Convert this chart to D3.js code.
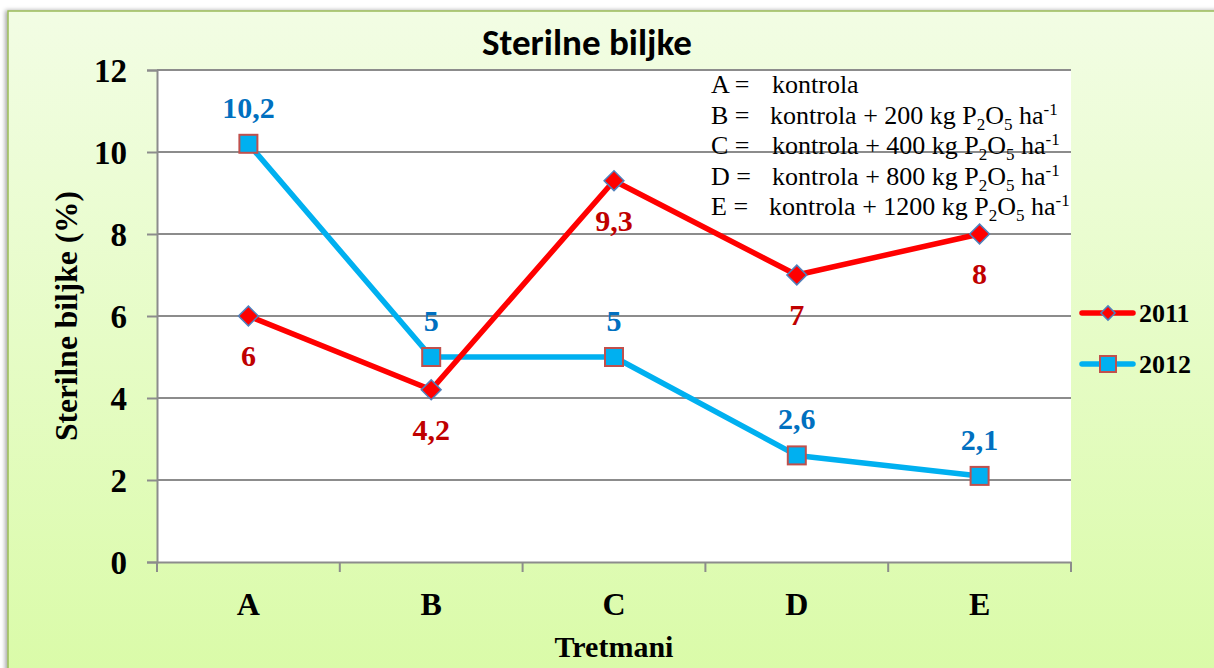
<!DOCTYPE html>
<html><head><meta charset="utf-8">
<script src="https://cdn.jsdelivr.net/npm/d3@7"></script>
<style>body{margin:0;background:#fff;}svg{display:block;}</style>
</head><body>
<script>
const categories = ["A","B","C","D","E"];
const series2011 = [6, 4.2, 9.3, 7, 8];
const series2012 = [10.2, 5, 5, 2.6, 2.1];
const labels2011 = ["6","4,2","9,3","7","8"];
const labels2012 = ["10,2","5","5","2,6","2,1"];
const yTicks = [0,2,4,6,8,10,12];
const seriesNames = ["2011","2012"];
const noteKeys = ["A =","B =","C =","D =","E ="];
const noteTexts = ["kontrola","kontrola + 200 kg P","kontrola + 400 kg P","kontrola + 800 kg P","kontrola + 1200 kg P"];
const noteUnit = [false,true,true,true,true];

const W=1214,H=668;
const SERIF="Liberation Serif, Times New Roman, serif";
const svg=d3.select("body").append("svg").attr("width",W).attr("height",H);
const defs=svg.append("defs");
const g1=defs.append("linearGradient").attr("id","bg").attr("x1",0).attr("y1",0).attr("x2",0).attr("y2",1);
g1.append("stop").attr("offset","0%").attr("stop-color","#f2fde4");
g1.append("stop").attr("offset","100%").attr("stop-color","#d9fba6");
const sh=defs.append("filter").attr("id","sh").attr("x","-5%").attr("y","-5%").attr("width","110%").attr("height","110%");
sh.append("feDropShadow").attr("dx",-2).attr("dy",0).attr("stdDeviation",2).attr("flood-color","#000").attr("flood-opacity",0.35);

svg.append("rect").attr("x",8).attr("y",11).attr("width",W+20).attr("height",H+20)
  .attr("fill","url(#bg)").attr("stroke","#9bbb59").attr("stroke-width",1.5).attr("filter","url(#sh)");

const L=157,R=1071,T=70,B=562;
const x=d3.scaleBand().domain(categories).range([L,R]);
const y=d3.scaleLinear().domain([0,12]).range([B,T]);
const cx=c=>x(c)+x.bandwidth()/2;

svg.append("rect").attr("x",L).attr("y",T).attr("width",R-L).attr("height",B-T).attr("fill","#fff");

// gridlines
svg.append("g").selectAll("line").data(yTicks.filter(d=>d>0)).join("line")
  .attr("x1",L).attr("x2",R).attr("y1",d=>y(d)).attr("y2",d=>y(d))
  .attr("stroke","#8c8c8c").attr("stroke-width",2);

// y axis
const ya=svg.append("g").attr("transform",`translate(${L},0)`)
  .call(d3.axisLeft(y).tickValues(yTicks).tickSize(10).tickPadding(20).tickFormat(d3.format("d")));
ya.select(".domain").attr("stroke","#8c8c8c").attr("stroke-width",2);
ya.selectAll(".tick line").attr("stroke","#8c8c8c").attr("stroke-width",2);
ya.selectAll("text").style("font-family",SERIF).style("font-weight","bold").style("font-size","33px").attr("fill","#000").attr("dy","0.34em");

// x axis
const xa=svg.append("g").attr("transform",`translate(0,${B})`)
  .call(d3.axisBottom(x).tickSize(0).tickPadding(0));
xa.select(".domain").attr("stroke","#8c8c8c").attr("stroke-width",2);
xa.selectAll("text").attr("dy",null).attr("y",53).style("font-family",SERIF).style("font-weight","bold").style("font-size","32px").attr("fill","#000");
const bounds=categories.map(c=>x(c)).concat([R]);
svg.append("g").selectAll("line").data(bounds).join("line")
  .attr("x1",d=>d).attr("x2",d=>d).attr("y1",B).attr("y2",B+10)
  .attr("stroke","#8c8c8c").attr("stroke-width",2);

// title
const title=svg.append("text").attr("x",587).attr("y",55).attr("text-anchor","middle")
  .style("font-family","Carlito, Lato, sans-serif").style("font-weight","bold").style("font-size","30px").text("Sterilne biljke");
{ const w=title.node().getComputedTextLength(); title.style("font-size",(30*210/w).toFixed(1)+"px"); }

// axis titles
svg.append("text").attr("transform","translate(77,316) rotate(-90)").attr("text-anchor","middle")
  .style("font-family",SERIF).style("font-weight","bold").style("font-size","31.5px").text("Sterilne biljke (%)");
svg.append("text").attr("x",614).attr("y",657).attr("text-anchor","middle")
  .style("font-family",SERIF).style("font-weight","bold").style("font-size","30px").text("Tretmani");

// notes
const nt=svg.append("g").style("font-family",SERIF).style("font-size","26px").attr("fill","#000");
const noteY=[93,124,154,185,215];
const noteX=[772,770,772,772,769];
noteKeys.forEach((k,i)=>{
  nt.append("text").attr("x",711).attr("y",noteY[i]).text(k);
  const tx=nt.append("text").attr("x",noteX[i]).attr("y",noteY[i]);
  tx.append("tspan").text(noteTexts[i]);
  if(noteUnit[i]){
    tx.append("tspan").style("font-size","17px").attr("dy",6).text("2");
    tx.append("tspan").attr("dy",-6).text("O");
    tx.append("tspan").style("font-size","17px").attr("dy",6).text("5");
    tx.append("tspan").attr("dy",-6).text(" ha");
    tx.append("tspan").style("font-size","17px").attr("dy",-9).text("-1");
  }
});

// lines
const line=d3.line().x((d,i)=>cx(categories[i])).y(d=>y(d));
svg.append("path").datum(series2012).attr("d",line).attr("fill","none").attr("stroke","#00b0f0").attr("stroke-width",5.5).attr("stroke-linejoin","round");
svg.append("path").datum(series2011).attr("d",line).attr("fill","none").attr("stroke","#ff0000").attr("stroke-width",5.5).attr("stroke-linejoin","round");

// markers 2011 (diamonds)
const sq14=d3.symbol().type(d3.symbolSquare).size(196)();
svg.append("g").selectAll("path").data(series2011).join("path")
  .attr("d",sq14)
  .attr("transform",(d,i)=>`translate(${cx(categories[i])},${y(d)}) rotate(45)`)
  .attr("fill","#ff0000").attr("stroke","#4f81bd").attr("stroke-width",1.5);
// markers 2012 (squares)
svg.append("g").selectAll("rect").data(series2012).join("rect")
  .attr("x",(d,i)=>cx(categories[i])-9).attr("y",d=>y(d)-9).attr("width",18).attr("height",18)
  .attr("fill","#00b0f0").attr("stroke","#c0504d").attr("stroke-width",2);

// data labels
svg.append("g").selectAll("text").data(series2011).join("text")
  .attr("x",(d,i)=>cx(categories[i])).attr("y",d=>y(d)+50).attr("text-anchor","middle")
  .style("font-family",SERIF).style("font-weight","bold").style("font-size","30px").attr("fill","#c00000")
  .text((d,i)=>labels2011[i]);
svg.append("g").selectAll("text").data(series2012).join("text")
  .attr("x",(d,i)=>cx(categories[i])).attr("y",d=>y(d)-26).attr("text-anchor","middle")
  .style("font-family",SERIF).style("font-weight","bold").style("font-size","30px").attr("fill","#0070c0")
  .text((d,i)=>labels2012[i]);

// legend
const lg=svg.append("g");
const legY=[313,364];
["#ff0000","#00b0f0"].forEach((c,i)=>{
  lg.append("line").attr("x1",1082).attr("x2",1133).attr("y1",legY[i]).attr("y2",legY[i])
    .attr("stroke",c).attr("stroke-width",5.5).attr("stroke-linecap","round");
  if(i==0){
    lg.append("path").attr("d",d3.symbol().type(d3.symbolSquare).size(100)())
      .attr("transform",`translate(1108,${legY[i]}) rotate(45)`).attr("fill","#ff0000").attr("stroke","#4f81bd").attr("stroke-width",1.5);
  } else {
    lg.append("rect").attr("x",1100).attr("y",legY[i]-8).attr("width",16).attr("height",16)
      .attr("fill","#00b0f0").attr("stroke","#c0504d").attr("stroke-width",2);
  }
  lg.append("text").attr("x",1139).attr("y",legY[i]+9).style("font-family",SERIF).style("font-weight","bold").style("font-size","26px").text(seriesNames[i]);
});
</script>
</body></html>
